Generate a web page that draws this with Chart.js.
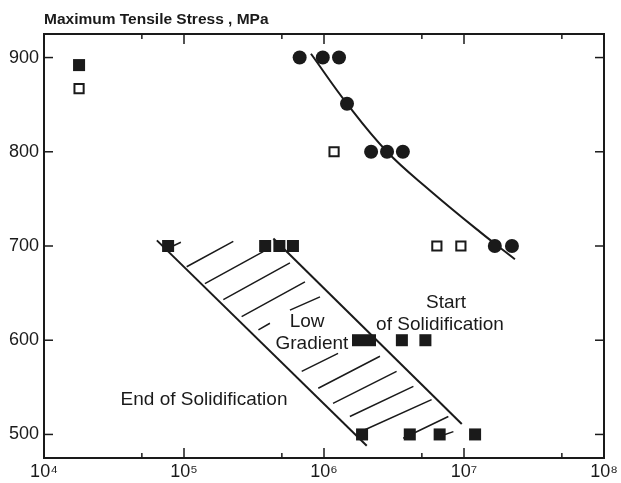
<!DOCTYPE html>
<html>
<head>
<meta charset="utf-8">
<script src="https://cdn.jsdelivr.net/npm/chart.js@4/dist/chart.umd.min.js"></script>
<style>
  html, body { margin: 0; padding: 0; background: #fff; }
  #wrap { width: 621px; height: 483px; }
</style>
</head>
<body>
<div id="wrap"><canvas id="chart" width="621" height="483"></canvas></div>
<script>
// Values (x = cycles, log scale; y = MPa)
const CIRCLE_X = [6.7e5, 9.8e5, 1.28e6, 1.46e6, 2.17e6, 2.82e6, 3.66e6, 1.66e7, 2.2e7];
const CIRCLE_Y = [900, 900, 900, 851, 800, 800, 800, 700, 700];

const OPEN_SQ_X = [1.78e4, 1.18e6, 6.4e6, 9.5e6];
const OPEN_SQ_Y = [867, 800, 700, 700];

const FILLED_SQ_X = [1.78e4, 7.7e4, 3.8e5, 4.8e5, 6.0e5, 1.75e6, 2.13e6, 3.6e6, 5.3e6, 1.87e6, 4.1e6, 6.7e6, 1.2e7];
const FILLED_SQ_Y = [892, 700, 700, 700, 700, 600, 600, 600, 600, 500, 500, 500, 500];

// fitted curve through the circles
const CURVE_X = [8.07e5, 1.46e6, 2.82e6, 5.71e6, 1.3e7, 2.31e7];
const CURVE_Y = [904, 851, 800, 759, 715, 686];

// boundaries of the low gradient band
const END_LINE_X = [6.4e4, 2.02e6];
const END_LINE_Y = [706, 488];
const START_LINE_X = [4.35e5, 9.64e6];
const START_LINE_Y = [708, 511];

// hatch segments inside the band
const HATCH_X0 = [8.34e4, 1.045e5, 1.41e5, 1.91e5, 2.58e5, 3.40e5, 5.71e5, 6.93e5, 9.1e5, 1.16e6, 1.53e6, 1.96e6, 3.68e6, 6.74e6];
const HATCH_Y0 = [700, 678, 660, 643, 625, 611, 632, 567, 549, 533, 519, 505, 496, 498];
const HATCH_X1 = [9.5e4, 2.25e5, 3.68e5, 5.71e5, 7.31e5, 4.11e5, 9.36e5, 1.26e6, 2.51e6, 3.3e6, 4.35e6, 5.87e6, 7.73e6, 8.4e6];
const HATCH_Y1 = [704, 705, 694, 682, 662, 618, 646, 586, 583, 567, 551, 537, 519, 503];

const X_MAJOR = [1e4, 1e5, 1e6, 1e7, 1e8];
const X_MINOR = [5e4, 5e5, 5e6, 5e7];
const X_LABELS = ['10\u2074', '10\u2075', '10\u2076', '10\u2077', '10\u2078'];
const Y_TICKS = [500, 600, 700, 800, 900];

const NOTE_TEXT = ['Low', 'Gradient', 'Start', 'of Solidification', 'End of Solidification'];
const NOTE_X = [7.57e5, 8.2e5, 7.44e6, 6.74e6, 1.39e5];
const NOTE_Y = [620, 596, 640, 616, 537];

const INK = '#1a1a1a';
const FONT = '"Liberation Sans", Arial, sans-serif';

const pts = (xs, ys) => xs.map((x, i) => ({ x: x, y: ys[i] }));

const hatchData = [];
HATCH_X0.forEach((x, i) => {
    hatchData.push({ x: x, y: HATCH_Y0[i] });
    hatchData.push({ x: HATCH_X1[i], y: HATCH_Y1[i] });
    hatchData.push({ x: HATCH_X1[i], y: null });
});

const lineStyle = {
    showLine: true,
    borderColor: INK,
    borderWidth: 2,
    pointRadius: 0,
    pointHoverRadius: 0,
    spanGaps: false,
    order: 5
};

// frame, inward ticks and in-plot notes
const framePlugin = {
    id: 'frame',
    afterDraw(chart) {
        const { ctx, chartArea: a, scales } = chart;
        const x = scales.x, y = scales.y;
        const seg = (x0, y0, x1, y1) => {
            ctx.beginPath(); ctx.moveTo(x0, y0); ctx.lineTo(x1, y1); ctx.stroke();
        };
        ctx.save();
        ctx.strokeStyle = INK;
        ctx.lineWidth = 2;
        ctx.strokeRect(a.left, a.top, a.right - a.left, a.bottom - a.top);
        ctx.lineWidth = 1.5;
        X_MAJOR.forEach(v => {
            const px = x.getPixelForValue(v);
            seg(px, a.bottom, px, a.bottom - 10);
            seg(px, a.top, px, a.top + 10);
        });
        X_MINOR.forEach(v => {
            const px = x.getPixelForValue(v);
            seg(px, a.bottom, px, a.bottom - 5);
            seg(px, a.top, px, a.top + 5);
        });
        Y_TICKS.forEach(v => {
            const py = y.getPixelForValue(v);
            seg(a.left, py, a.left + 9, py);
            seg(a.right, py, a.right - 9, py);
        });
        ctx.fillStyle = INK;
        ctx.font = '19px ' + FONT;
        ctx.textAlign = 'center';
        ctx.textBaseline = 'middle';
        NOTE_TEXT.forEach((t, i) => {
            ctx.fillText(t, x.getPixelForValue(NOTE_X[i]), y.getPixelForValue(NOTE_Y[i]));
        });
        ctx.restore();
    }
};

new Chart(document.getElementById('chart'), {
    type: 'scatter',
    data: {
        datasets: [
            { label: 'Filled circles', data: pts(CIRCLE_X, CIRCLE_Y), pointStyle: 'circle', pointRadius: 7, backgroundColor: INK, borderWidth: 0, order: 1 },
            { label: 'Filled squares', data: pts(FILLED_SQ_X, FILLED_SQ_Y), pointStyle: 'rect', pointRadius: 8.5, backgroundColor: INK, borderWidth: 0, order: 1 },
            { label: 'Open squares', data: pts(OPEN_SQ_X, OPEN_SQ_Y), pointStyle: 'rect', pointRadius: 6.5, backgroundColor: '#fff', borderColor: INK, borderWidth: 2, order: 1 },
            Object.assign({ label: 'Curve', data: pts(CURVE_X, CURVE_Y), tension: 0.4 }, lineStyle),
            Object.assign({ label: 'End', data: pts(END_LINE_X, END_LINE_Y) }, lineStyle),
            Object.assign({ label: 'Start', data: pts(START_LINE_X, START_LINE_Y) }, lineStyle),
            Object.assign({ label: 'Hatch', data: hatchData }, lineStyle, { borderWidth: 1.5 })
        ]
    },
    options: {
        responsive: false,
        animation: false,
        layout: { padding: { left: 0, right: 17, top: 0, bottom: 0 } },
        plugins: {
            legend: { display: false },
            tooltip: { enabled: false },
            title: {
                display: true,
                text: 'Maximum Tensile Stress , MPa',
                align: 'start',
                fullSize: false,
                color: INK,
                font: { family: FONT, size: 15.5, weight: 'bold' },
                padding: { top: 10, bottom: 5.4 }
            }
        },
        scales: {
            x: {
                type: 'logarithmic',
                min: 1e4,
                max: 1e8,
                grid: { display: false, drawTicks: false },
                border: { display: false },
                afterBuildTicks: s => { s.ticks = X_MAJOR.map(v => ({ value: v })); },
                afterFit: s => { s.height = 25; },
                ticks: {
                    autoSkip: false,
                    maxRotation: 0,
                    padding: 3,
                    color: INK,
                    font: { family: FONT, size: 18 },
                    callback: v => X_LABELS[X_MAJOR.indexOf(v)]
                }
            },
            y: {
                type: 'linear',
                min: 475,
                max: 925,
                grid: { display: false, drawTicks: false },
                border: { display: false },
                afterBuildTicks: s => { s.ticks = Y_TICKS.map(v => ({ value: v })); },
                afterFit: s => { s.width = 44; },
                ticks: {
                    padding: 5,
                    color: INK,
                    font: { family: FONT, size: 18 },
                    callback: v => String(v)
                }
            }
        }
    },
    plugins: [framePlugin]
});
</script>
</body>
</html>
